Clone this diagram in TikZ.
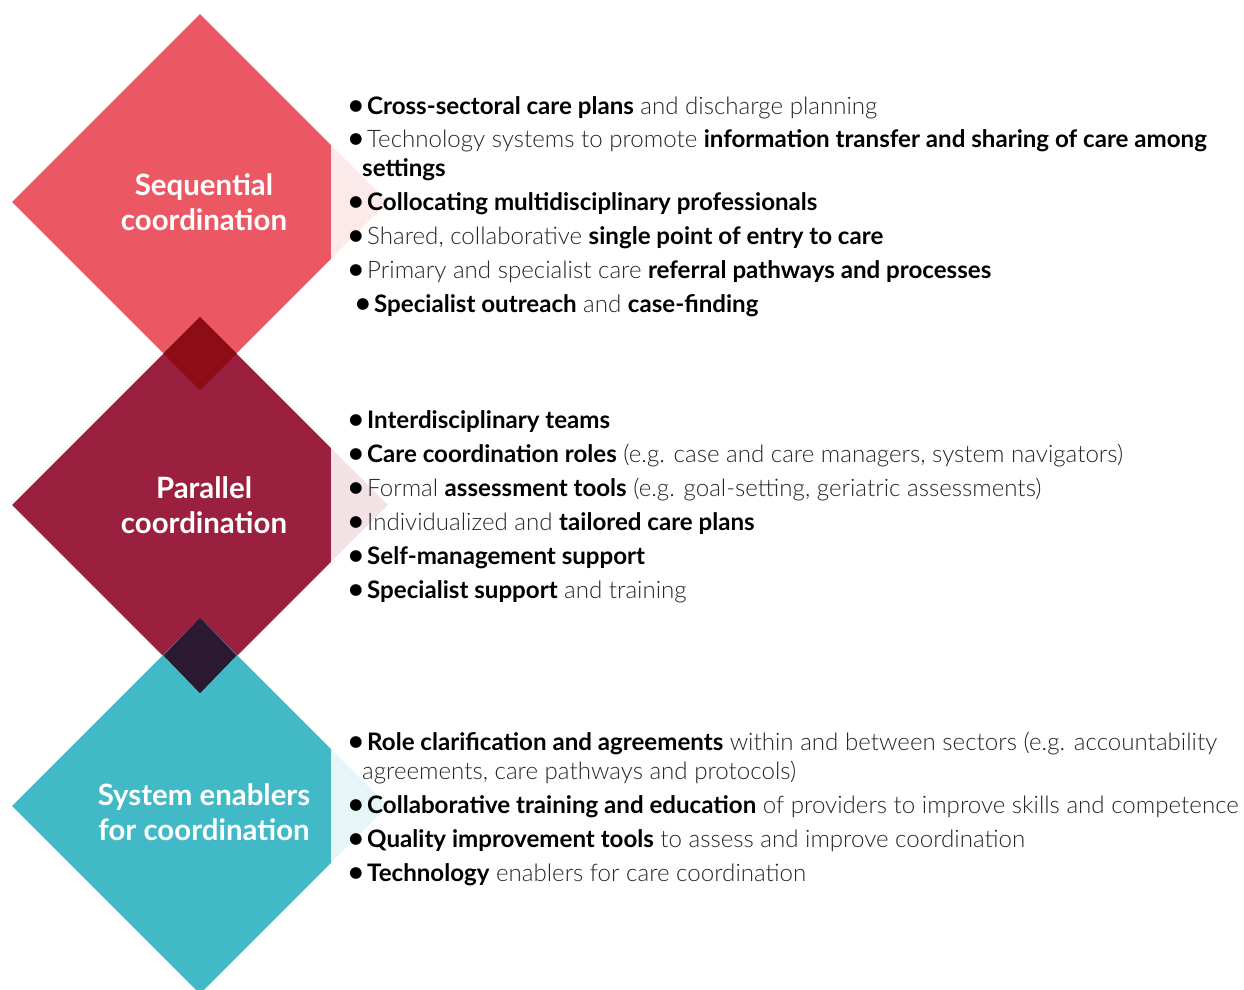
\documentclass[tikz,border=0pt]{standalone}
\usepackage{fontspec}
\setmainfont{Lato}[UprightFont=* Light, BoldFont=* Bold]
\usepackage{tikz}
\usetikzlibrary{shapes.geometric}

\definecolor{seqpink}{HTML}{EB5763}
\definecolor{parred}{HTML}{9B203F}
\definecolor{enateal}{HTML}{41B9C7}
\definecolor{seqpar}{HTML}{8C0D18}
\definecolor{parena}{HTML}{2A1930}
\definecolor{lighttext}{HTML}{262626}

\newcommand{\bb}[1]{{\bfseries\color{black}#1}}
\newcommand{\bul}{\makebox[19bp][l]{\raisebox{-0.5bp}{\color{black}\fontsize{27}{29}\selectfont\bfseries\textbullet}}}
\newcommand{\ttl}{\hspace*{8bp}}

\begin{document}
\begin{tikzpicture}[x=1bp, y=-1bp, every node/.style={anchor=base west, align=left, inner sep=0pt, text=lighttext, font=\fontsize{24.2}{29}\selectfont}]
  \useasboundingbox (0,0) rectangle (1244,990);
  \begin{scope}
  \clip (0,0) rectangle (1244,990);
  % diamonds
  \node (seq) [diamond, aspect=1, minimum size=376bp, fill=seqpink, anchor=center, text=white, align=center, font=\fontsize{29.5}{35}\selectfont\bfseries] at (200,202) {\ttl Sequential\\\ttl coordination};
  \node (par) [diamond, aspect=1, minimum size=376bp, fill=parred, anchor=center, text=white, align=center, font=\fontsize{29.5}{35}\selectfont\bfseries] at (200,505) {\ttl Parallel\\\ttl coordination};
  \node (ena) [diamond, aspect=1, minimum size=376bp, fill=enateal, anchor=center, text=white, align=center, font=\fontsize{29.5}{35}\selectfont\bfseries] at (200,806) {\rule{0pt}{34bp}\ttl System enablers\\\ttl for coordination};
  \fill[seqpar] (par.north) -- (163.5,353.5) -- (seq.south) -- (236.5,353.5) -- cycle;
  \fill[parena] (ena.north) -- (163.5,655.5) -- (par.south) -- (236.5,655.5) -- cycle;
  \fill[white, opacity=.87] (331,0) rectangle (1244,990);
  \end{scope}

  % sequential
  \node (s1) at (348,114) {\bul\bb{Cross-sectoral care plans} and discharge planning};
  \node (s2) at (348,176) {\bul Technology systems to promote \bb{information transfer and sharing of care among}\\\hspace*{14bp}\bb{settings}};
  \node (s3) at (348,210) {\bul\bb{Collocating multidisciplinary professionals}};
  \node (s4) at (348,244) {\bul Shared, collaborative \bb{single point of entry to care}};
  \node (s5) at (348,278) {\bul Primary and specialist care \bb{referral pathways and processes}};
  \node (s6) at (355,312) {\bul\bb{Specialist outreach} and \bb{case-finding}};

  % parallel
  \node (p1) at (348,428) {\bul\bb{Interdisciplinary teams}};
  \node (p2) at (348,462) {\bul\bb{Care coordination roles} (e.g. case and care managers, system navigators)};
  \node (p3) at (348,496) {\bul Formal \bb{assessment tools} (e.g. goal-setting, geriatric assessments)};
  \node (p4) at (348,530) {\bul Individualized and \bb{tailored care plans}};
  \node (p5) at (348,564) {\bul\bb{Self-management support}};
  \node (p6) at (348,598) {\bul\bb{Specialist support} and training};

  % enablers
  \node (e1) at (348,779) {\bul\bb{Role clarification and agreements} within and between sectors (e.g. accountability\\\hspace*{14bp}agreements, care pathways and protocols)};
  \node (e2) at (348,813) {\bul\bb{Collaborative training and education} of providers to improve skills and competence};
  \node (e3) at (348,847) {\bul\bb{Quality improvement tools} to assess and improve coordination};
  \node (e4) at (348,881) {\bul\bb{Technology} enablers for care coordination};
\end{tikzpicture}
\end{document}
